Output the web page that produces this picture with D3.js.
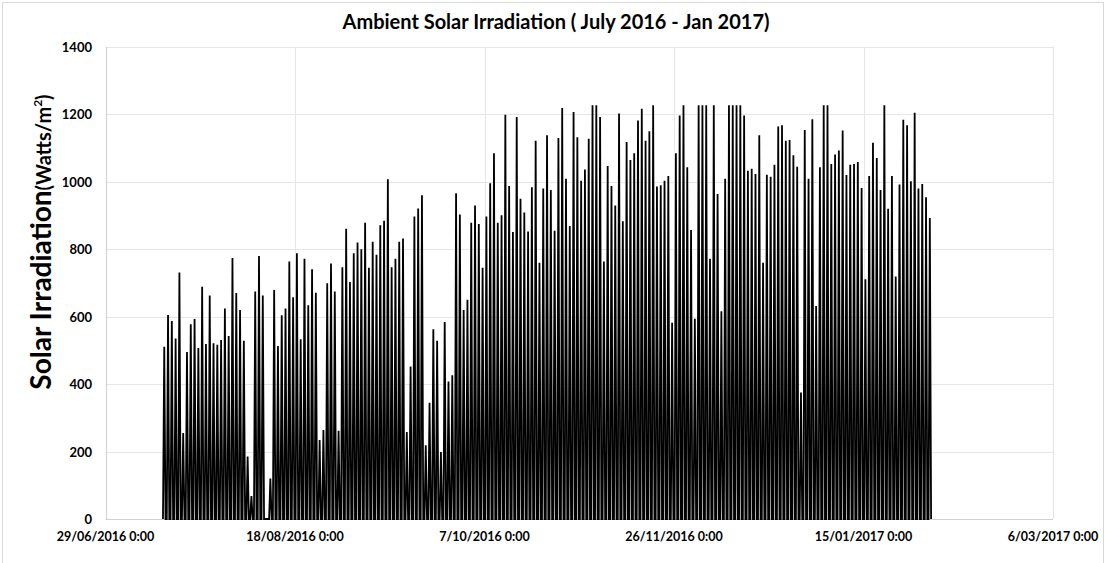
<!DOCTYPE html>
<html lang="en">
<head>
<meta charset="UTF-8">
<title>Ambient Solar Irradiation</title>
<script src="https://cdnjs.cloudflare.com/ajax/libs/d3/7.8.5/d3.min.js"></script>
<style>
  body { margin: 0; background: #fff; }
  text { font-family: Lato, "Open Sans", sans-serif; font-weight: bold; fill: #000; }
</style>
</head>
<body>
<div id="chart"></div>
<script>
// first day with data, one peak value (W/m2) per day after it
var firstDay = "2016-07-14";
var dailyPeaks = [
  511, 605, 587, 535, 731, 255, 495, 578, 593, 507,
  689, 519, 663, 521, 517, 531, 624, 543, 774, 670,
  620, 529, 185, 68, 675, 780, 663, 0, 120, 679,
  513, 604, 624, 764, 658, 788, 533, 772, 634, 741,
  671, 234, 264, 699, 758, 675, 262, 747, 861, 703,
  788, 820, 800, 879, 745, 822, 784, 871, 885, 1008,
  747, 772, 822, 832, 258, 452, 897, 921, 960, 219,
  345, 563, 529, 199, 584, 408, 426, 966, 903, 620,
  650, 879, 930, 875, 745, 897, 996, 1085, 879, 901,
  1199, 988, 851, 1192, 950, 909, 853, 984, 1122, 760,
  980, 1138, 976, 855, 1130, 1219, 1009, 869, 1207, 1132,
  1003, 1037, 1128, 1227, 1227, 1192, 764, 1047, 988, 930,
  1203, 883, 1118, 1065, 1085, 1182, 1217, 1122, 1150, 1227,
  986, 990, 1003, 1017, 582, 1085, 1197, 1227, 1043, 857,
  594, 1227, 1227, 1227, 772, 1227, 964, 616, 1009, 1227,
  1227, 1227, 1227, 1197, 1033, 1039, 1023, 1138, 760, 1021,
  1015, 1051, 1164, 1168, 1122, 1124, 1079, 1045, 375, 1154,
  1009, 1186, 632, 1043, 1227, 1227, 1053, 1081, 1093, 1152,
  1020, 1051, 1053, 1059, 982, 711, 1017, 1116, 1071, 976,
  1227, 920, 1017, 719, 992, 1184, 1168, 1002, 1205, 980,
  994, 954, 893
];
var xTickDates = ["2016-06-29", "2016-08-18", "2016-10-07", "2016-11-26", "2017-01-15", "2017-03-06"];
var yTicks = [0, 200, 400, 600, 800, 1000, 1200, 1400];

var width = 1105, height = 563;
var margin = {top: 47, right: 52, bottom: 44, left: 105.5};

var parse = d3.timeParse("%Y-%m-%d");
var tickDates = xTickDates.map(parse);
var start = parse(firstDay);

var svg = d3.select("#chart").append("svg")
    .attr("width", width)
    .attr("height", height);

// chart frame
svg.append("rect")
    .attr("x", 2.5).attr("y", 2.5)
    .attr("width", width - 4).attr("height", height + 10)
    .attr("fill", "none").attr("stroke", "#d9d9d9");

var x = d3.scaleTime()
    .domain([tickDates[0], tickDates[tickDates.length - 1]])
    .range([margin.left, width - margin.right]);

var y = d3.scaleLinear()
    .domain([0, 1400])
    .range([height - margin.bottom, margin.top]);

// grid
svg.append("g").selectAll("line.h")
    .data(yTicks)
    .enter().append("line")
    .attr("x1", x.range()[0]).attr("x2", x.range()[1])
    .attr("y1", function(d) { return Math.round(y(d)) + 0.5; })
    .attr("y2", function(d) { return Math.round(y(d)) + 0.5; })
    .attr("stroke", function(d) { return d == 0 ? "#d0d0d0" : "#e6e6e6"; });

svg.append("g").selectAll("line.v")
    .data(tickDates)
    .enter().append("line")
    .attr("x1", function(d) { return Math.round(x(d)) + 0.5; })
    .attr("x2", function(d) { return Math.round(x(d)) + 0.5; })
    .attr("y1", y(1400)).attr("y2", y(0))
    .attr("stroke", function(d, i) { return i == 0 ? "#d0d0d0" : "#e6e6e6"; });

// each day: zero at sunrise, peak at noon, zero at sunset
var pts = [];
dailyPeaks.forEach(function(v, i) {
    var day = d3.timeDay.offset(start, i);
    pts.push({t: d3.timeHour.offset(day, 4), v: 0});
    pts.push({t: d3.timeHour.offset(day, 12), v: v});
    pts.push({t: d3.timeHour.offset(day, 20), v: 0});
});

var line = d3.line()
    .x(function(d) { return x(d.t); })
    .y(function(d) { return y(d.v); });

svg.append("path")
    .datum(pts)
    .attr("d", line)
    .attr("fill", "none")
    .attr("stroke", "#000")
    .attr("stroke-width", 1.8)
    .attr("stroke-linejoin", "miter");

// axes (labels only, Excel style)
var fmt = d3.timeFormat("%d/%m/%Y 0:00");
svg.append("g").selectAll("text")
    .data(tickDates)
    .enter().append("text")
    .attr("x", function(d) { return x(d); })
    .attr("y", 541)
    .attr("text-anchor", "middle")
    .style("font-size", "12.5px")
    .text(function(d) { return fmt(d).replace(/^0/, ""); });

svg.append("g").selectAll("text")
    .data(yTicks)
    .enter().append("text")
    .attr("x", 92)
    .attr("y", function(d) { return y(d) + 5; })
    .attr("text-anchor", "end")
    .style("font-size", "13px")
    .text(function(d) { return d; });

// title
svg.append("text")
    .attr("x", 556)
    .attr("y", 29)
    .attr("text-anchor", "middle")
    .style("font-size", "20px")
    .text("Ambient Solar Irradiation ( July 2016 - Jan 2017)");

// y title
var yt = svg.append("text")
    .attr("transform", "translate(51,242) rotate(-90)")
    .attr("text-anchor", "middle");
yt.append("tspan").style("font-size", "28px").text("Solar Irradiation");
yt.append("tspan").style("font-size", "20px").text("(Watts/m");
yt.append("tspan").style("font-size", "12px").attr("dy", -9).text("2");
yt.append("tspan").style("font-size", "20px").attr("dy", 9).text(")");
</script>
</body>
</html>
